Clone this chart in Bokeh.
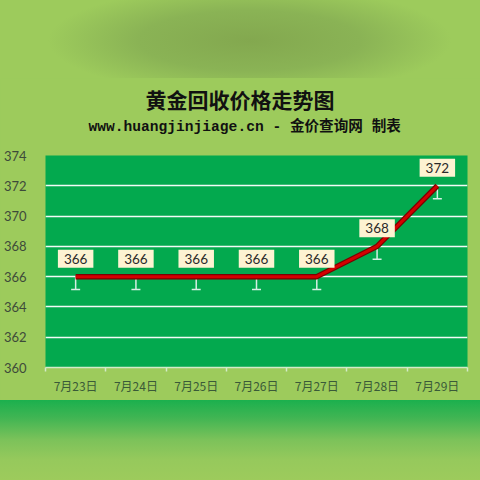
from bokeh.plotting import figure
from bokeh.models import (Range1d, FixedTicker, Whisker, TeeHead, ColumnDataSource,
                          Title, Div)
from bokeh.layouts import column
from bokeh.core.properties import value
from bokeh.embed import file_html
from bokeh.resources import INLINE

# ---- data ----
dates = ["7月23日", "7月24日", "7月25日", "7月26日", "7月27日", "7月28日", "7月29日"]
prices = [366, 366, 366, 366, 366, 368, 372]
err_down = [0.85, 0.85, 0.85, 0.85, 0.85, 0.85, 0.85]
y_ticks = [360, 362, 364, 366, 368, 370, 372, 374]

title_text = "黄金回收价格走势图"
subtitle_text = "www.huangjinjiage.cn - 金价查询网 制表"

LIGHT = "#9dcb5c"
n = len(dates)
xs = [i + 0.5 for i in range(n)]
src = ColumnDataSource(dict(
    x=xs, y=prices,
    lower=[p - e for p, e in zip(prices, err_down)],
    label=[str(p) for p in prices],
))

p = figure(width=480, height=322, output_backend="svg", toolbar_location=None,
           x_range=Range1d(0, n), y_range=Range1d(360, 374),
           min_border_left=42, min_border_right=13, min_border_top=77,
           min_border_bottom=33,
           background_fill_color="#03a94e", border_fill_color=LIGHT,
           outline_line_color=None, margin=0,
           styles={"background-color": LIGHT})

MONO = "'Liberation Mono', 'Noto Sans CJK SC', monospace"
# spacer between the subtitle and the plot area
p.add_layout(Title(text=" ", text_font=MONO, text_font_size="14px", standoff=0), "above")
p.add_layout(Title(text=subtitle_text, align="left", offset=43,
                   text_font=MONO, text_font_style="bold", text_font_size="14.6px",
                   text_color="#111111", standoff=6), "above")
p.add_layout(Title(text=title_text, align="left", offset=100,
                   text_font="Noto Sans CJK SC", text_font_style="bold",
                   text_font_size="21px", text_color="#111111", standoff=0), "above")

# grid
p.xgrid.visible = False
p.ygrid.ticker = FixedTicker(ticks=y_ticks)
p.ygrid.grid_line_color = "white"
p.ygrid.grid_line_width = 1.5
p.ygrid.grid_line_alpha = 0.95

# y axis
p.yaxis.ticker = FixedTicker(ticks=y_ticks)
p.yaxis.axis_line_color = None
p.yaxis.major_tick_line_color = None
p.yaxis.minor_tick_line_color = None
p.yaxis.major_label_text_font = "Lato"
p.yaxis.major_label_text_font_size = "13px"
p.yaxis.major_label_text_color = "#3d4a3a"
p.yaxis.major_label_standoff = 13

# x axis
p.xaxis.ticker = FixedTicker(ticks=xs, minor_ticks=list(range(n + 1)))
p.xaxis.major_label_overrides = {x: d for x, d in zip(xs, dates)}
p.xaxis.axis_line_color = "#d3ebc8"
p.xaxis.axis_line_width = 1.5
p.xaxis.major_tick_line_color = None
p.xaxis.major_tick_out = 0
p.xaxis.major_tick_in = 0
p.xaxis.minor_tick_line_color = "#d3ebc8"
p.xaxis.minor_tick_line_width = 1.5
p.xaxis.minor_tick_out = 4
p.xaxis.minor_tick_in = 0
p.xaxis.major_label_text_font = "Noto Sans CJK SC"
p.xaxis.major_label_text_font_size = "12px"
p.xaxis.major_label_text_color = "#3a5a38"
p.xaxis.major_label_standoff = 5

# error bars
wh = Whisker(base="x", upper="y", lower="lower", source=src,
             line_color="#d6efe4", line_width=1.5, upper_head=None,
             lower_head=TeeHead(size=9, line_color="#d6efe4", line_width=1.5),
             level="underlay")
p.add_layout(wh)

# line
p.line("x", "y", source=src, line_color="#7a0000", line_width=5.5)
p.line("x", "y", source=src, line_color="#d40000", line_width=3)

# data labels
p.text("x", "y", text="label", source=src, text_align="center",
       text_baseline="bottom", y_offset=-9, text_font=value("Lato"),
       text_font_size="13.5px", text_color="#2a2a2a",
       background_fill_color="#fdf3d2", padding=(6, 4))

top = Div(width=480, height=78, margin=0, styles={
    "background": "radial-gradient(ellipse 42% 70% at 52% 52%, #83a84f 0%, #8ab355 55%, #9dcb5c 100%)"})
bottom = Div(width=480, height=80, margin=0, styles={
    "background": "linear-gradient(to bottom, #1bb04e 0%, #40b553 22%, #7cc25a 50%, #96c95c 75%, #9dcb5c 100%)"})

layout = column(top, p, bottom, spacing=0, margin=0)
open("out.html", "w").write(file_html(layout, INLINE))
